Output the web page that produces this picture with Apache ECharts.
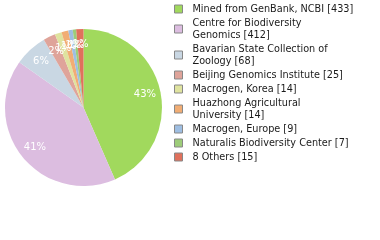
<!DOCTYPE html>
<html>
<head>
<meta charset="utf-8">
<script src="https://cdn.jsdelivr.net/npm/echarts@6/dist/echarts.min.js"></script>
<style>
html,body{margin:0;padding:0;background:#fff;}
#c{width:380px;height:240px;}
</style>
</head>
<body>
<div id="c"></div>
<script>
var categories = [
  "Mined from GenBank, NCBI",
  "Centre for Biodiversity Genomics",
  "Bavarian State Collection of Zoology",
  "Beijing Genomics Institute",
  "Macrogen, Korea",
  "Huazhong Agricultural University",
  "Macrogen, Europe",
  "Naturalis Biodiversity Center",
  "8 Others"
];
var legendLabels = [
  "Mined from GenBank, NCBI [433]",
  "Centre for Biodiversity\nGenomics [412]",
  "Bavarian State Collection of\nZoology [68]",
  "Beijing Genomics Institute [25]",
  "Macrogen, Korea [14]",
  "Huazhong Agricultural\nUniversity [14]",
  "Macrogen, Europe [9]",
  "Naturalis Biodiversity Center [7]",
  "8 Others [15]"
];
var values = [433, 412, 68, 25, 14, 14, 9, 7, 15];
var colors = ["#a1d95d", "#dcbde0", "#c9d7e3", "#dfa49a", "#dfe39f", "#f1ad74", "#9ebee2", "#9dcc79", "#e0715c"];

var total = values.reduce(function(a,b){return a+b;}, 0);
var data = categories.map(function(n,i){
  return {name:n, value:values[i], itemStyle:{color:colors[i]}};
});
var overlayData = categories.map(function(n,i){
  return {name:n, value:values[i], itemStyle:{color:'rgba(0,0,0,0)'}};
});

var chart = echarts.init(document.getElementById('c'), null, {renderer:'canvas'});
chart.setOption({
  animation:false,
  legend:{
    orient:'vertical',
    left:174, top:3,
    padding:0,
    itemGap:2,
    itemWidth:8, itemHeight:8,
    icon:'rect',
    itemStyle:{borderColor:'#888', borderWidth:1},
    selectedMode:false,
    data:categories,
    formatter:function(name){
      var s = legendLabels[categories.indexOf(name)];
      return s.split('\n').map(function(t){ return '{t|' + t + '}'; }).join('\n');
    },
    textStyle:{
      fontFamily:'DejaVu Sans', fontSize:9.7, color:'#1a1a1a',
      lineHeight:12,
      rich:{
        t:{fontFamily:'DejaVu Sans', fontSize:9.7, color:'#1a1a1a', lineHeight:12, padding:[0,0,0,5]}
      }
    }
  },
  series:[
    {
      type:'pie',
      center:[83.5,107.5],
      radius:[0,78.5],
      startAngle:90,
      clockwise:true,
      label:{show:false},
      labelLine:{show:false},
      emphasis:{disabled:true},
      silent:true,
      data:data
    },
    {
      type:'pie',
      center:[83.5,107.5],
      radius:[41,78.5],
      startAngle:90,
      clockwise:true,
      silent:true,
      emphasis:{disabled:true},
      labelLine:{show:false},
      labelLayout:{hideOverlap:false},
      label:{
        show:true, position:'inside',
        color:'#fff', fontFamily:'DejaVu Sans', fontSize:10,
        formatter:function(p){ return Math.max(1, Math.floor(p.value/total*100)) + '%'; }
      },
      data:overlayData
    }
  ]
});
</script>
</body>
</html>
